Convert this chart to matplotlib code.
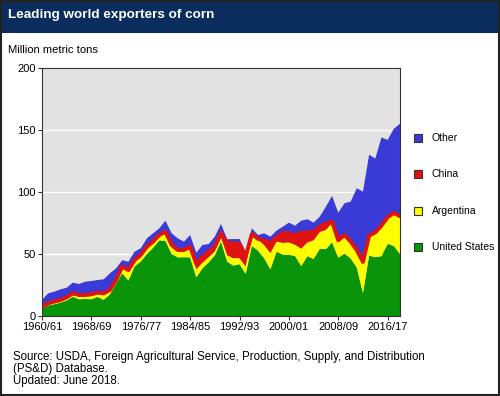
import numpy as np
import matplotlib
matplotlib.use("Agg")
import matplotlib.pyplot as plt
from matplotlib.patches import Rectangle

plt.rcParams['font.family'] = ['Liberation Sans', 'DejaVu Sans']

years = list(range(1960, 2019))
us = [6.0, 8.5, 9.5, 10.8, 12.5, 15.6, 13.5, 13.8, 13.5, 15.5,
      13.0, 17.5, 26.0, 34.5, 28.6, 40.0, 44.0, 50.0, 55.0, 61.0,
      60.7, 50.0, 47.3, 47.4, 47.3, 31.2, 38.5, 43.2, 49.0, 60.1,
      43.9, 40.6, 41.8, 34.0, 56.6, 52.7, 46.6, 37.7, 51.9, 49.5,
      49.3, 48.4, 40.3, 48.3, 46.0, 54.2, 53.9, 59.5, 47.0, 50.3,
      46.5, 39.1, 18.6, 48.8, 47.4, 48.3, 58.2, 56.5, 50.0]
argentina = [1.0, 1.2, 1.5, 1.6, 2.0, 2.0, 2.8, 2.5, 3.3, 2.7,
             4.6, 2.8, 2.3, 4.5, 7.5, 4.2, 4.4, 5.1, 4.2, 3.5,
             6.5, 6.5, 5.0, 4.8, 6.5, 6.5, 4.5, 4.2, 3.0, 3.2,
             5.0, 6.0, 4.8, 6.0, 8.0, 9.0, 10.5, 13.0, 8.0, 9.5,
             10.0, 9.0, 14.0, 11.0, 15.0, 13.5, 15.5, 15.5, 13.0, 14.5,
             13.0, 13.5, 23.5, 15.5, 19.5, 24.0, 21.0, 26.0, 30.0]
china = [0.5, 0.5, 0.6, 0.5, 0.5, 0.6, 0.6, 0.6, 0.6, 0.6,
         0.6, 0.7, 0.7, 0.8, 0.9, 0.8, 0.8, 0.8, 0.8, 0.8,
         0.8, 0.8, 0.9, 1.0, 2.1, 4.3, 4.8, 4.5, 3.9, 3.4,
         10.0, 12.0, 11.5, 8.0, 1.5, 0.5, 3.8, 8.0, 3.5, 8.0,
         7.5, 7.5, 13.0, 8.0, 7.0, 4.3, 5.3, 1.0, 1.0, 0.5,
         0.5, 0.5, 1.5, 0.5, 0.5, 0.5, 0.5, 0.5, 0.5]
other = [5.5, 8.1, 8.0, 8.6, 7.8, 8.7, 8.9, 10.8, 10.8, 10.2,
         11.4, 13.4, 9.4, 5.2, 6.8, 6.9, 5.4, 6.7, 6.7, 5.4,
         8.9, 9.4, 9.4, 6.8, 9.4, 9.0, 9.5, 6.1, 8.1, 7.5,
         3.0, 3.4, 4.0, 4.0, 4.6, 3.1, 5.8, 5.3, 5.4, 5.0,
         8.5, 7.9, 9.6, 10.7, 7.3, 8.1, 13.5, 20.8, 22.3, 25.6,
         32.2, 49.9, 56.7, 65.2, 59.6, 71.2, 62.3, 68.0, 74.5]

labels = ['United States', 'Argentina', 'China', 'Other']
colors = ['#0a940a', '#ffff00', '#e01313', '#3a3ad6']
tick_years = list(range(1960, 2017, 8))
tick_labels = ['%d/%02d' % (y, (y + 1) % 100) for y in tick_years]

fig = plt.figure(figsize=(5, 3.96), dpi=100)

# title bar and frame
fig.patches.append(Rectangle((0, 363 / 396), 1, 33 / 396, transform=fig.transFigure,
                             facecolor='#0b2d5e', edgecolor='none', zorder=0))
fig.patches.append(Rectangle((0.002, 0.003), 0.996, 0.994, transform=fig.transFigure,
                             facecolor='none', edgecolor='#222222', lw=1.5, zorder=5))
fig.text(8 / 500, 1 - 15 / 396, 'Leading world exporters of corn', color='white',
         fontsize=9.7, fontweight='bold', va='center', ha='left')
fig.text(8 / 500, 1 - 50 / 396, 'Million metric tons', fontsize=8.1, va='center', ha='left')

ax = fig.add_axes([42 / 500, 80 / 396, 358 / 500, 248 / 396])
ax.set_facecolor('#e2e2e2')
ax.stackplot(years, us, argentina, china, other, colors=colors, lw=0)
top_red = np.array(us) + np.array(argentina) + np.array(china)
ax.plot(years, top_red, color=colors[2], lw=2.8, solid_joinstyle='round')

ax.set_xlim(1960, 2018)
ax.set_ylim(0, 200)
ax.set_yticks([0, 50, 100, 150, 200])
ax.set_xticks(tick_years)
ax.set_xticklabels(tick_labels)
ax.yaxis.grid(True, color='white', lw=1)
ax.set_axisbelow(True)
ax.tick_params(labelsize=8, length=3, width=0.8, color='#333333', pad=1.5)
for s in ax.spines.values():
    s.set_color('#333333')
    s.set_linewidth(0.8)
    s.set_zorder(4)

# legend
leg_y = [138, 174, 211, 247]
for name, c, yy in zip(labels[::-1], colors[::-1], leg_y):
    fig.patches.append(Rectangle((414 / 500, 1 - (yy + 4) / 396), 8 / 500, 8 / 396,
                                 transform=fig.transFigure, facecolor=c,
                                 edgecolor='#333333', lw=0.8))
    fig.text(432 / 500, 1 - yy / 396, name, fontsize=7.5, va='center', ha='left')

fig.text(13 / 500, 1 - 369 / 396,
         'Source: USDA, Foreign Agricultural Service, Production, Supply, and Distribution\n'
         '(PS&D) Database.\nUpdated: June 2018.',
         fontsize=8.3, va='center', ha='left', linespacing=1.0)

fig.savefig('out.png', dpi=100)
